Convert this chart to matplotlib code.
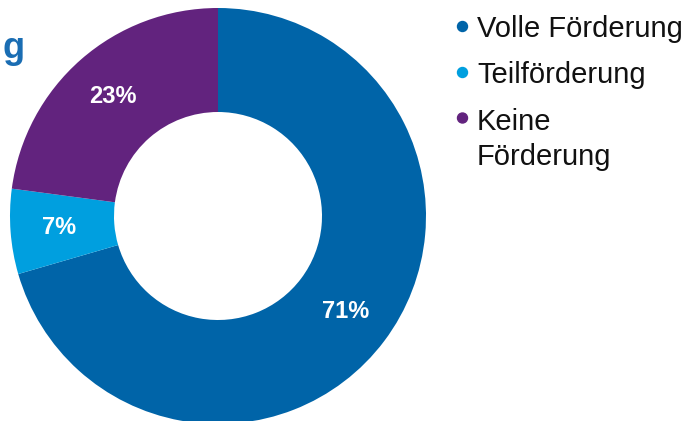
import matplotlib
matplotlib.use("Agg")
import matplotlib.pyplot as plt
import numpy as np

categories = ["Volle Förderung", "Teilförderung", "Keine Förderung"]
legend_lines = ["Volle Förderung", "Teilförderung", "Keine\nFörderung"]
values = [70.5, 6.6, 22.9]
pct_labels = ["71%", "7%", "23%"]
colors = ["#0064A8", "#009FDF", "#62237E"]

W, H = 691, 421
fig = plt.figure(figsize=(W / 100, H / 100), dpi=100)
plt.rcParams['font.family'] = ['Liberation Sans', 'DejaVu Sans']

cx, cy, R = 218, 216, 208
ax = fig.add_axes([(cx - R) / W, (H - cy - R) / H, 2 * R / W, 2 * R / H])
wedges, _ = ax.pie(values, colors=colors, startangle=90, counterclock=False,
                   radius=1.0, wedgeprops=dict(width=0.5, edgecolor='none'))
ax.set_xlim(-1, 1)
ax.set_ylim(-1, 1)
ax.axis('off')

for w, lab in zip(wedges, pct_labels):
    mid = np.deg2rad((w.theta1 + w.theta2) / 2)
    r = 0.765
    ax.text(r * np.cos(mid), r * np.sin(mid), lab, ha='center', va='center',
            color='white', fontsize=17, fontweight='bold')

# cut-off title fragment
fig.text(2 / W, 1 - 58 / H, "g", color="#1A6DB3", fontsize=26, fontweight='bold',
         ha='left', va='baseline')

# legend
bullet_y = [26.5, 72.5, 118]
text_base = [37, 83, 130.5]
for by, tb, lab, col in zip(bullet_y, text_base, legend_lines, colors):
    fig.patches.append(matplotlib.patches.Ellipse((462.5 / W, 1 - by / H), 10 / W, 10 / H,
                                                   transform=fig.transFigure, color=col))
    lines = lab.split("\n")
    for i, ln in enumerate(lines):
        fig.text(477 / W, 1 - (tb + i * 34) / H, ln, fontsize=21, color='#111111',
                 ha='left', va='baseline')

fig.savefig("out.png", dpi=100)
